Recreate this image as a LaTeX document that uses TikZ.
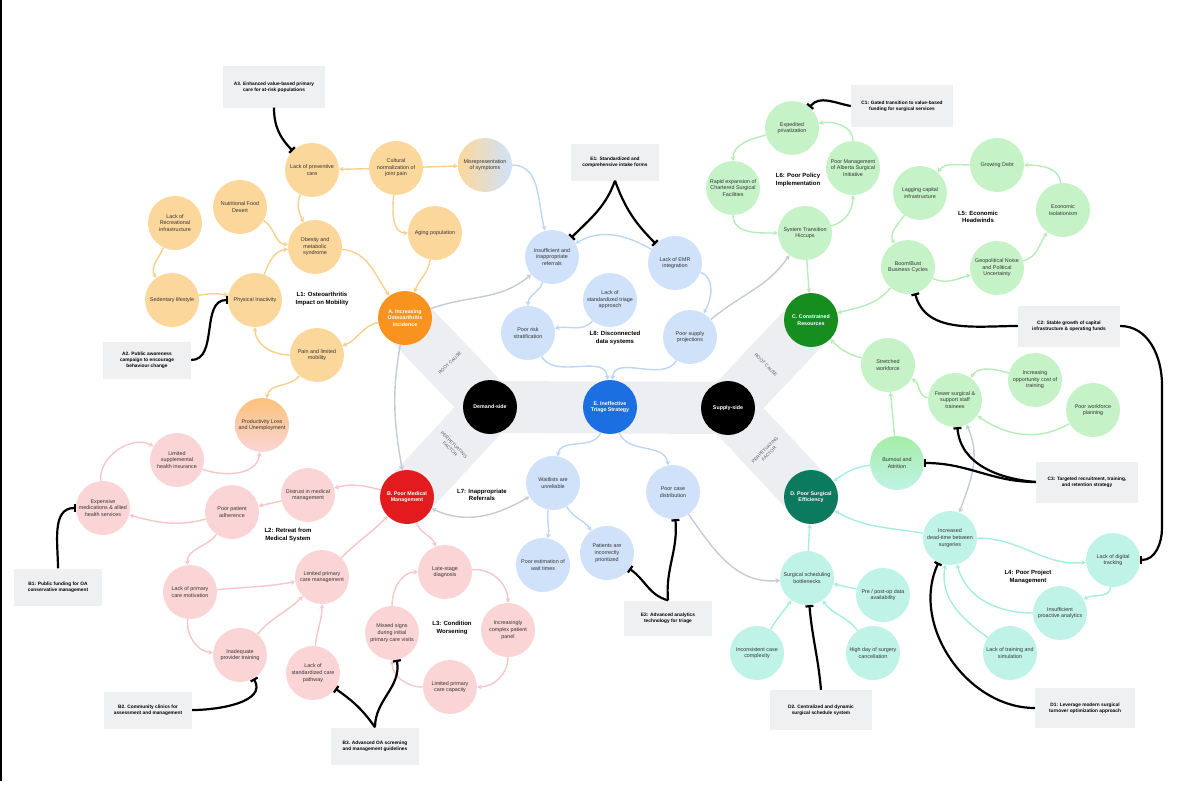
\documentclass[tikz,border=0pt]{standalone}
\usepackage{fontspec}
\setmainfont{Liberation Sans}
\usetikzlibrary{arrows.meta}
\definecolor{orL}{HTML}{FCD79B}
\definecolor{orA}{HTML}{F9CF8E}
\definecolor{orD}{HTML}{F7931E}
\definecolor{pkL}{HTML}{FBD5D6}
\definecolor{pkA}{HTML}{F7C6C8}
\definecolor{rdD}{HTML}{E31B1F}
\definecolor{blL}{HTML}{CFE2FA}
\definecolor{blA}{HTML}{BDD6F6}
\definecolor{blD}{HTML}{1B6FE0}
\definecolor{grL}{HTML}{C6F2C7}
\definecolor{grA}{HTML}{B5EDB7}
\definecolor{grD}{HTML}{168E1F}
\definecolor{tlL}{HTML}{C0F3E7}
\definecolor{tlA}{HTML}{A6EEDC}
\definecolor{tlD}{HTML}{0B7A5F}
\definecolor{boxC}{HTML}{EFF0F2}
\definecolor{bandC}{HTML}{EDEEF1}
\definecolor{gyA}{HTML}{C5CAD4}
\definecolor{prodT}{HTML}{FBC27A}
\definecolor{burnT}{HTML}{A5EDA6}
\newcommand\myNF{\fontsize{5.4}{6.6}\selectfont}
\newcommand\myMF{\bfseries\fontsize{5.3}{6.5}\selectfont}
\newcommand\myBF{\bfseries\fontsize{4.8}{6.2}\selectfont}
\newcommand\myLF{\bfseries\fontsize{6}{7.2}\selectfont}
\newcommand\myTF{\fontsize{4.6}{5.6}\selectfont}
\pgfdeclarelayer{bgl}
\pgfdeclarelayer{midl}
\pgfsetlayers{bgl,midl,main}
\begin{document}
\begin{tikzpicture}[x=1pt,y=-1pt,
 cnode/.style={circle, minimum size=54pt, inner sep=-4pt, align=center, font=\myNF, text=black!80},
 orn/.style={cnode, fill=orL},
 pkn/.style={cnode, fill=pkL},
 bln/.style={cnode, fill=blL},
 grn/.style={cnode, fill=grL},
 tln/.style={cnode, fill=tlL},
 mainn/.style={cnode, font=\myMF, text=white},
 boxn/.style={rectangle, fill=boxC, align=center, font=\myBF, text=black, inner sep=0pt, minimum width=88pt, minimum height=37pt},
 wbox/.style={boxn, minimum width=102pt, minimum height=41pt},
 labn/.style={align=center, font=\myLF, text=black},
 bandtxt/.style={align=center, font=\myTF, text=black!65},
 band/.style={draw=bandC, line width=52pt},
 conn/.style={line width=1.4pt, -{Stealth[length=4.5pt,width=5pt]}},
 oa/.style={conn, draw=orA},
 pa/.style={conn, draw=pkA},
 ba/.style={conn, draw=blA},
 ga/.style={conn, draw=grA},
 ta/.style={conn, draw=tlA},
 gya/.style={conn, draw=gyA},
 gyb/.style={gya, {Stealth[length=4.5pt,width=5pt]}-{Stealth[length=4.5pt,width=5pt]}},
 inh/.style={draw=black, line width=2.2pt, -{Bar[width=8pt,line width=2.2pt]}},
]
\useasboundingbox (0,0) rectangle (1200,800);

% ---------- orange ----------
\node[orn] (prev) at (312,170) {Lack of preventive\\care};
\node[orn] (cult) at (396,168) {Cultural\\normalization of\\joint pain};
\node[cnode, left color=orL, right color=blL] (misrep) at (485,165) {Misrepresentation\\of symptoms};
\node[orn] (aging) at (435,233) {Aging population};
\node[orn] (nutri) at (240,207) {Nutritional Food\\Desert};
\node[orn] (recr) at (175,223) {Lack of\\Recreational\\infrastructure};
\node[orn] (obes) at (315,247) {Obesity and\\metabolic\\syndrome};
\node[orn] (sed) at (172,300) {Sedentary lifestyle};
\node[orn] (inact) at (255,300) {Physical Inactivity};
\node[mainn, fill=orD] (A) at (405,318) {A. Increasing\\Osteoarthritis\\Incidence};
\node[orn] (pain) at (317,355) {Pain and limited\\mobility};
\node[cnode, top color=prodT, bottom color=pkL] (prod) at (262,425) {Productivity Loss\\and Unemployment};

% ---------- pink ----------
\node[pkn] (suppl) at (177,460) {Limited\\supplemental\\health insurance};
\node[pkn] (expm) at (103,508) {Expensive\\medications \& allied\\health services};
\node[pkn] (dist) at (308,495) {Distrust in medical\\management};
\node[pkn] (adh) at (232,512) {Poor patient\\adherence};
\node[pkn] (mot) at (190,592) {Lack of primary\\care motivation};
\node[pkn] (mgmt) at (322,577) {Limited primary\\care management};
\node[pkn] (train) at (240,655) {Inadequate\\provider training};
\node[pkn] (pathw) at (313,673) {Lack of\\standardized care\\pathway};
\node[pkn] (missed) at (392,633) {Missed signs\\during initial\\primary care visits};
\node[pkn] (late) at (445,572) {Late-stage\\diagnosis};
\node[pkn] (complex) at (508,630) {Increasingly\\complex patient\\panel};
\node[pkn] (capac) at (450,687) {Limited primary\\care capacity};
\node[mainn, fill=rdD] (B) at (407,497) {B. Poor Medical\\Management};

% ---------- blue ----------
\node[bln] (ref) at (552,257) {Insufficient and\\inappropriate\\referrals};
\node[bln] (emr) at (675,263) {Lack of EMR\\integration};
\node[bln] (triage) at (610,300) {Lack of\\standardized triage\\approach};
\node[bln] (risk) at (528,333) {Poor risk\\stratification};
\node[bln] (supply) at (690,337) {Poor supply\\projections};
\node[mainn, fill=blD] (E) at (610,407) {E. Ineffective\\Triage Strategy};
\node[mainn, fill=black] (dem) at (490,407) {Demand-side};
\node[mainn, fill=black] (sup) at (728,408) {Supply-side};
\node[bln] (wait) at (553,483) {Waitlists are\\unreliable};
\node[bln] (casedist) at (673,492) {Poor case\\distribution};
\node[bln] (est) at (543,565) {Poor estimation of\\wait times};
\node[bln] (pat) at (607,553) {Patients are\\incorrectly\\prioritized};

% ---------- green ----------
\node[grn] (exped) at (792,128) {Expedited\\privatization};
\node[grn] (polm) at (853,168) {Poor Management\\of Alberta Surgical\\Initiative};
\node[grn] (rapid) at (733,188) {Rapid expansion of\\Chartered Surgical\\Facilities};
\node[grn] (sys) at (805,233) {System Transition\\Hiccups};
\node[mainn, fill=grD] (C) at (811,320) {C. Constrained\\Resources};
\node[grn] (lag) at (920,193) {Lagging capital\\infrastructure};
\node[grn] (debt) at (997,165) {Growing Debt};
\node[grn] (iso) at (1063,210) {Economic\\Isolationism};
\node[grn] (geo) at (997,268) {Geopolitical Noise\\and Political\\Uncertainty};
\node[grn] (boom) at (908,267) {Boom/Bust\\Business Cycles};
\node[grn] (stretch) at (888,365) {Stretched\\workforce};
\node[grn] (fewer) at (955,400) {Fewer surgical \&\\support staff\\trainees};
\node[grn] (opp) at (1035,380) {Increasing\\opportunity cost of\\training};
\node[grn] (plan) at (1093,410) {Poor workforce\\planning};
\node[cnode, top color=burnT, bottom color=tlL] (burn) at (897,463) {Burnout and\\Attrition};

% ---------- teal ----------
\node[mainn, fill=tlD] (D) at (811,497) {D. Poor Surgical\\Efficiency};
\node[tln] (dead) at (950,538) {Increased\\dead-time between\\surgeries};
\node[tln] (digital) at (1113,560) {Lack of digital\\tracking};
\node[tln] (insuff) at (1060,613) {Insufficient\\proactive analytics};
\node[tln] (train2) at (1010,653) {Lack of training and\\simulation};
\node[tln] (sched) at (807,578) {Surgical scheduling\\bottlenecks};
\node[tln] (preop) at (883,595) {Pre / post-op data\\availability};
\node[tln] (incons) at (757,653) {Inconsistent case\\complexity};
\node[tln] (high) at (873,653) {High day of surgery\\cancellation};

% ---------- loop labels ----------
\node[labn] (l1) at (322,299) {L1: Osteoarthritis\\Impact on Mobility};
\node[labn] (l8) at (615,338) {L8: Disconnected\\data systems};
\node[labn] (l7) at (482,495) {L7: Inappropriate\\Referrals};
\node[labn] (l2) at (288,535) {L2: Retreat from\\Medical System};
\node[labn] (l3) at (452,628) {L3: Condition\\Worsening};
\node[labn] (l6) at (798,180) {L6: Poor Policy\\Implementation};
\node[labn] (l5) at (978,217) {L5: Economic\\Headwinds};
\node[labn] (l4) at (1028,577) {L4: Poor Project\\Management};

% ---------- band texts ----------
\node[bandtxt, rotate=45] (rc1) at (450,363) {ROOT CAUSE};
\node[bandtxt, rotate=-45] (pf1) at (452,447) {PERPETUATING\\FACTOR};
\node[bandtxt, rotate=-45] (rc2) at (766,365) {ROOT CAUSE};
\node[bandtxt, rotate=45] (pf2) at (767,452) {PERPETUATING\\FACTOR};

% ---------- intervention boxes ----------
\node[wbox] (a3) at (274,87) {A3. Enhanced value-based primary\\care for at-risk populations};
\node[boxn] (a2) at (147,360) {A2. Public awareness\\campaign to encourage\\behaviour change};
\node[boxn] (e1) at (615,162) {E1: Standardized and\\comprehensive intake forms};
\node[wbox] (c1) at (902,106) {C1: Gated transition to value-based\\funding for surgical services};
\node[wbox] (c2) at (1069,326) {C2: Stable growth of capital\\infrastructure \& operating funds};
\node[wbox] (c3) at (1087,482) {C3: Targeted recruitment, training,\\and retention strategy};
\node[boxn, minimum height=35pt] (e2) at (668,618) {E2: Advanced analytics\\technology for triage};
\node[wbox, minimum height=40pt, minimum width=100pt] (d1) at (1085,708) {D1: Leverage modern surgical\\turnover optimization approach};
\node[wbox, minimum height=40pt] (d2) at (821,710) {D2. Centralized and dynamic\\surgical schedule system};
\node[boxn] (b1) at (58,587) {B1: Public funding for OA\\conservative management};
\node[boxn] (b2) at (148,710) {B2. Community clinics for\\assessment and management};
\node[boxn] (b3) at (375,746) {B3. Advanced OA screening\\and management guidelines};

\coordinate (e1f) at (e1.south);
\coordinate (e2f) at (e2.north);
\coordinate (b3f) at (b3.north);
\coordinate (c3f) at (c3.west);
\coordinate (c2a) at (1162,385);
\coordinate (c2b) at (1162,528);

% ---------- bands ----------
\begin{pgfonlayer}{bgl}
 \draw[band] (A.center) -- (dem.center);
 \draw[band] (B.center) -- (dem.center);
 \draw[band] (dem.center) -- (sup.center);
 \draw[band] (C.center) -- (sup.center);
 \draw[band] (D.center) -- (sup.center);
\end{pgfonlayer}

% ---------- connectors ----------
\begin{pgfonlayer}{midl}
 % orange
 \draw[oa] (cult) -- (prev);
 \draw[oa] (cult) -- (misrep);
 \draw[oa] (cult) to[out=-95,in=180] (aging);
 \draw[oa] (aging) to[out=-100,in=70] (A);
 \draw[oa] (prev) to[out=-115,in=115] (obes);
 \draw[oa] (nutri) to[out=-30,in=175] (obes);
 \draw[oa] (inact) to[out=70,in=185] (obes);
 \draw[oa] (obes) to[out=-5,in=125] (A);
 \draw[oa] (recr) to[out=-115,in=125] (sed);
 \draw[oa] (sed) to[out=10,in=170] (inact);
 \draw[oa] (A) to[out=190,in=20] (pain);
 \draw[oa] (pain) to[out=180,in=-90] (inact);
 \draw[oa] (pain) to[out=-130,in=80] (prod);
 % pink
 \draw[pa] (suppl) to[out=-20,in=-95] (prod);
 \draw[pa] (expm) to[out=95,in=150] (suppl);
 \draw[pa] (adh) to[out=195,in=-15] (expm);
 \draw[pa] (dist) -- (adh);
 \draw[pa] (B) to[out=165,in=15] (dist);
 \draw[pa] (adh) to[out=-125,in=95] (mot);
 \draw[pa] (mot) to[out=5,in=190] (mgmt);
 \draw[pa] (mot) to[out=-95,in=175] (train);
 \draw[pa] (train) to[out=50,in=-135] (mgmt);
 \draw[pa] (pathw) to[out=85,in=-90] (mgmt);
 \draw[pa] (mgmt) to[out=45,in=-135] (B);
 \draw[pa] (B) to[out=-70,in=110] (late);
 \draw[pa] (missed) to[out=90,in=180] (late);
 \draw[pa] (late) to[out=5,in=90] (complex);
 \draw[pa] (complex) to[out=-90,in=0] (capac);
 \draw[pa] (capac) to[out=180,in=-90] (missed);
 % blue
 \draw[ba] (misrep) to[out=0,in=105] (ref);
 \draw[ba] (emr) to[out=150,in=30] (ref);
 \draw[ba] (ref) to[out=-110,in=90] (risk);
 \draw[ba] (triage) to[out=-130,in=10] (risk);
 \draw[ba] (emr) to[out=-20,in=60] (supply);
 \draw[ba] (risk) to[out=-60,in=95] (E);
 \draw[ba] (supply) to[out=-120,in=85] (E);
 \draw[ba] (E) to[out=-110,in=80] (wait);
 \draw[ba] (E) to[out=-70,in=100] (casedist);
 \draw[ba] (wait) to[out=-100,in=80] (est);
 \draw[ba] (wait) to[out=-60,in=125] (pat);
 % grey
 \draw[gya] (A) to[out=20,in=-140] (ref);
 \draw[gya] (A) to[out=-100,in=100] (B);
 \draw[gyb] (B) to[out=-25,in=-150] (wait);
 \draw[gya] (supply) to[out=40,in=-125] (sys);
 \draw[gya] (casedist) to[out=-55,in=185] (sched);
 \draw[gyb] (fewer) to[out=-65,in=70] (dead);
 % green
 \draw[ga] (polm) to[out=90,in=10] (exped);
 \draw[ga] (exped) to[out=195,in=90] (rapid);
 \draw[ga] (rapid) to[out=-90,in=180] (sys);
 \draw[ga] (sys) to[out=15,in=-90] (polm);
 \draw[ga] (sys) -- (C);
 \draw[ga] (debt) to[out=180,in=50] (lag);
 \draw[ga] (iso) to[out=95,in=0] (debt);
 \draw[ga] (geo) to[out=15,in=-125] (iso);
 \draw[ga] (boom) to[out=-25,in=195] (geo);
 \draw[ga] (lag) to[out=-125,in=120] (boom);
 \draw[ga] (boom) to[out=-130,in=15] (C);
 \draw[ga] (stretch) to[out=165,in=-45] (C);
 \draw[ga] (fewer) to[out=175,in=-30] (stretch);
 \draw[ga] (opp) to[out=165,in=55] (fewer);
 \draw[ga] (plan) to[out=-150,in=-35] (fewer);
 \draw[ga] (burn) -- (stretch);
 % teal
 \draw[ta] (burn) to[out=185,in=35] (D);
 \draw[ta] (dead) to[out=170,in=-30] (D);
 \draw[ta] (dead) to[out=0,in=185] (digital);
 \draw[ta] (digital) to[out=-95,in=30] (insuff);
 \draw[ta] (insuff) to[out=180,in=-75] (dead);
 \draw[ta] (train2) to[out=145,in=-100] (dead);
 \draw[ta] (sched) -- (D);
 \draw[ta] (preop) -- (sched);
 \draw[ta] (incons) to[out=60,in=-125] (sched);
 \draw[ta] (high) to[out=125,in=-55] (sched);
\end{pgfonlayer}

% ---------- interventions (inhibitors) ----------
\draw[inh] (a3.south) to[out=-90,in=135] (prev);
\draw[inh] (a2.east) to[out=0,in=180] (inact);
\draw[inh] (e1f) to[out=-110,in=45] (ref);
\draw[inh] (e1f) to[out=-70,in=135] (emr);
\draw[inh] (c1.west) to[out=170,in=50] (exped);
\draw[inh] (c2.west) to[out=180,in=-75] (boom);
\draw[inh] (c2.east) to[out=0,in=90] (c2a) -- (c2b) to[out=-90,in=0] (digital);
\draw[inh] (c3f) to[out=180,in=0] (burn);
\draw[inh] (c3f) to[out=175,in=-85] (fewer);
\draw[inh] (e2f) to[out=165,in=-35] (pat);
\draw[inh] (e2f) to[out=95,in=-85] (casedist);
\draw[inh] (d1.west) to[out=180,in=-115] (dead);
\draw[inh] (d2.north) to[out=95,in=-85] (sched);
\draw[inh] (b1.north) to[out=90,in=180] (expm);
\draw[inh] (b2.east) to[out=0,in=-60] (train);
\draw[inh] (b3f) to[out=125,in=-35] (pathw);
\draw[inh] (b3f) to[out=90,in=-80] (missed);

% left edge rule
\draw[line width=1.6pt] (1,0) -- (1,781);
\end{tikzpicture}
\end{document}
